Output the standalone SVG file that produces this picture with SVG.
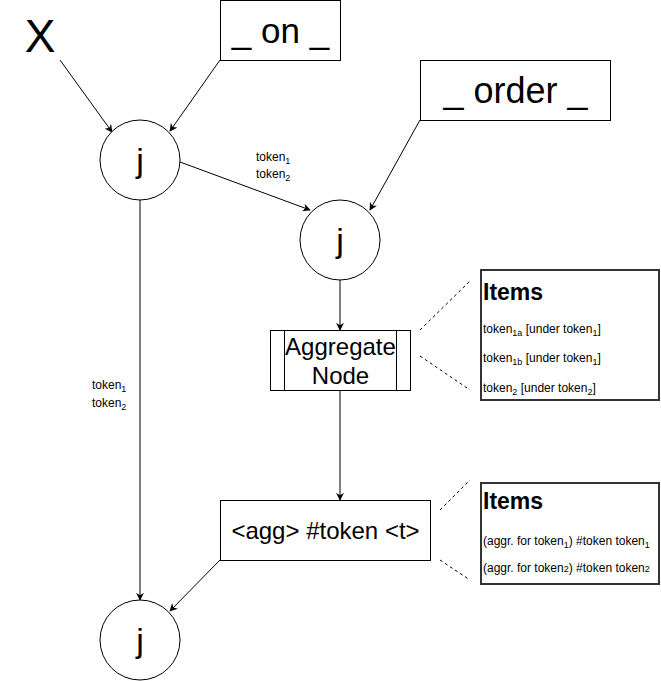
<svg xmlns="http://www.w3.org/2000/svg" width="661" height="681" viewBox="0 0 661 681">
<defs>
<marker id="arr" viewBox="0 0 10 10" refX="9" refY="5" markerWidth="8" markerHeight="8" orient="auto" markerUnits="userSpaceOnUse">
<path d="M0,0 L10,5 L0,10 L3,5 Z" fill="#000"/>
</marker>
<style>
text{font-family:"Liberation Sans",Arial,sans-serif;fill:#000}
.node{fill:#fff;stroke:#000;stroke-width:1}
.edge{stroke:#000;stroke-width:1;fill:none;marker-end:url(#arr)}
.dash{stroke:#000;stroke-width:1;fill:none;stroke-dasharray:3,3}
.j{font-size:34px;text-anchor:middle}
.lbl{font-size:12px}
.items{fill:#fff;stroke:#333;stroke-width:2}
.ih{font-size:23px;font-weight:bold}
.it{font-size:12px}
.sub{font-size:9px}
</style>
</defs>
<rect width="661" height="681" fill="#fff"/>
<g id="connectors">
<line class="edge" x1="60" y1="60" x2="112" y2="132"/>
<line class="edge" x1="220" y1="60" x2="170" y2="131"/>
<line class="edge" x1="180" y1="162" x2="310" y2="210"/>
<line class="edge" x1="420" y1="120" x2="370" y2="210"/>
<line class="edge" x1="340" y1="280" x2="340" y2="330"/>
<line class="edge" x1="340" y1="390" x2="340" y2="500"/>
<line class="edge" x1="220" y1="560" x2="170" y2="611"/>
<line class="edge" x1="140" y1="200" x2="140" y2="600"/>
<line class="dash" x1="420" y1="330" x2="470" y2="281"/>
<line class="dash" x1="420" y1="356" x2="470" y2="390"/>
<line class="dash" x1="440" y1="510" x2="470" y2="480"/>
<line class="dash" x1="440" y1="560" x2="470" y2="580"/>
<text class="lbl" x="256" y="161">token<tspan class="sub" dy="3">1</tspan></text>
<text class="lbl" x="256" y="178">token<tspan class="sub" dy="3">2</tspan></text>
<text class="lbl" x="92" y="389">token<tspan class="sub" dy="3">1</tspan></text>
<text class="lbl" x="92" y="407">token<tspan class="sub" dy="3">2</tspan></text>
</g>
<g id="X"><text x="40" y="52" font-size="46" text-anchor="middle">X</text></g>
<g id="on"><rect class="node" x="220.5" y="0.5" width="120" height="60"/><text x="280.5" y="43" font-size="35" text-anchor="middle">_ on _</text></g>
<g id="order"><rect class="node" x="420.5" y="60.5" width="190" height="60"/><text x="515.5" y="103" font-size="36" text-anchor="middle">_ order _</text></g>
<g id="j1"><circle class="node" cx="140" cy="160" r="40"/><text class="j" x="140" y="172">j</text></g>
<g id="j2"><circle class="node" cx="340" cy="240" r="40"/><text class="j" x="340" y="252">j</text></g>
<g id="j3"><circle class="node" cx="140" cy="640" r="40"/><text class="j" x="140" y="652">j</text></g>
<g id="aggregate">
<rect class="node" x="270.5" y="330.5" width="140" height="60"/>
<line x1="284.5" y1="330.5" x2="284.5" y2="390.5" stroke="#000"/>
<line x1="396.5" y1="330.5" x2="396.5" y2="390.5" stroke="#000"/>
<text x="340.5" y="355" font-size="24" text-anchor="middle">Aggregate</text>
<text x="340.5" y="384" font-size="24" text-anchor="middle">Node</text>
</g>
<g id="agg">
<rect class="node" x="220.5" y="500.5" width="210" height="60"/>
<text x="325.5" y="539" font-size="24" text-anchor="middle">&lt;agg&gt; #token &lt;t&gt;</text>
</g>
<g id="items1">
<rect class="items" x="481" y="270" width="178" height="130"/>
<text class="ih" x="483" y="300">Items</text>
<text class="it" x="483" y="333">token<tspan class="sub" dy="3">1a</tspan><tspan dy="-3"> [under token</tspan><tspan class="sub" dy="3">1</tspan><tspan dy="-3">]</tspan></text>
<text class="it" x="483" y="362">token<tspan class="sub" dy="3">1b</tspan><tspan dy="-3"> [under token</tspan><tspan class="sub" dy="3">1</tspan><tspan dy="-3">]</tspan></text>
<text class="it" x="483" y="392">token<tspan class="sub" dy="3">2</tspan><tspan dy="-3"> [under token</tspan><tspan class="sub" dy="3">2</tspan><tspan dy="-3">]</tspan></text>
</g>
<g id="items2">
<rect class="items" x="481" y="483" width="178" height="101"/>
<text class="ih" x="483" y="509">Items</text>
<text class="it" x="483" y="545">(aggr. for token<tspan class="sub" dy="3">1</tspan><tspan dy="-3">) #token token</tspan><tspan class="sub" dy="3">1</tspan></text>
<text class="it" x="483" y="572">(aggr. for token<tspan class="sub">2</tspan>) #token token<tspan class="sub">2</tspan></text>
</g>
</svg>
